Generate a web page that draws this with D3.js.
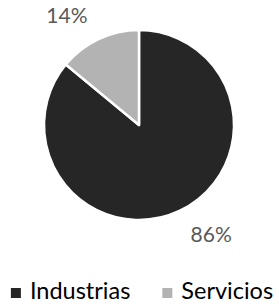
<!DOCTYPE html>
<html>
<head>
<meta charset="utf-8">
<script src="https://cdn.jsdelivr.net/npm/d3@7"></script>
<style>
  body { margin: 0; background: #fff; }
  svg { display: block; }
  text { font-family: Lato, "Open Sans", sans-serif; }
</style>
</head>
<body>
<svg id="chart"></svg>
<script>
// Sector shares (percent)
var categories = ["Industrias", "Servicios"];
var values = [86, 14];
var colors = ["#262626", "#b3b3b3"];

const width = 279;
const height = 306;
const cx = 139, cy = 125;
const radius = 95;
const labelRadius = 121;

var svg = d3.select("#chart")
    .attr("width", width)
    .attr("height", height);

var pie = d3.pie().sort(null).value(function(d) { return d; });
var arcs = pie(values);

var arc = d3.arc().innerRadius(0).outerRadius(radius);
var labelArc = d3.arc().innerRadius(labelRadius).outerRadius(labelRadius);

var g = svg.append("g").attr("transform", "translate(" + cx + "," + cy + ")");

g.selectAll("path")
    .data(arcs)
    .enter().append("path")
    .attr("d", arc)
    .attr("fill", function(d, i) { return colors[i]; })
    .attr("stroke", "#fff")
    .attr("stroke-width", 2.5)
    .attr("stroke-linejoin", "round");

// Data labels outside the pie
g.selectAll(".label")
    .data(arcs)
    .enter().append("text")
    .attr("class", "label")
    .attr("x", function(d) { return labelArc.centroid(d)[0]; })
    .attr("y", function(d) { return labelArc.centroid(d)[1]; })
    .attr("dy", "0.36em")
    .attr("text-anchor", function(d) {
        var mid = (d.startAngle + d.endAngle) / 2;
        return Math.sin(mid) < 0 ? "end" : "start";
    })
    .attr("fill", "#595959")
    .attr("font-size", 21)
    .text(function(d) { return d.value + "%"; });

// Legend
var legend = svg.append("g");
var items = legend.selectAll(".item")
    .data(categories)
    .enter().append("g")
    .attr("class", "item");

items.append("rect")
    .attr("width", 10)
    .attr("height", 10)
    .attr("y", -11)
    .attr("fill", function(d, i) { return colors[i]; });

items.append("text")
    .attr("x", 19)
    .attr("font-size", 23.5)
    .attr("fill", "#000")
    .text(function(d) { return d; });

var xPos = 0;
var gap = 32;
items.each(function() {
    var w = this.getBBox().width;
    d3.select(this).attr("transform", "translate(" + xPos + ",0)");
    xPos += w + gap;
});
var total = xPos - gap;
legend.attr("transform", "translate(" + ((width - total) / 2 + 2.5) + ",299)");
</script>
</body>
</html>
